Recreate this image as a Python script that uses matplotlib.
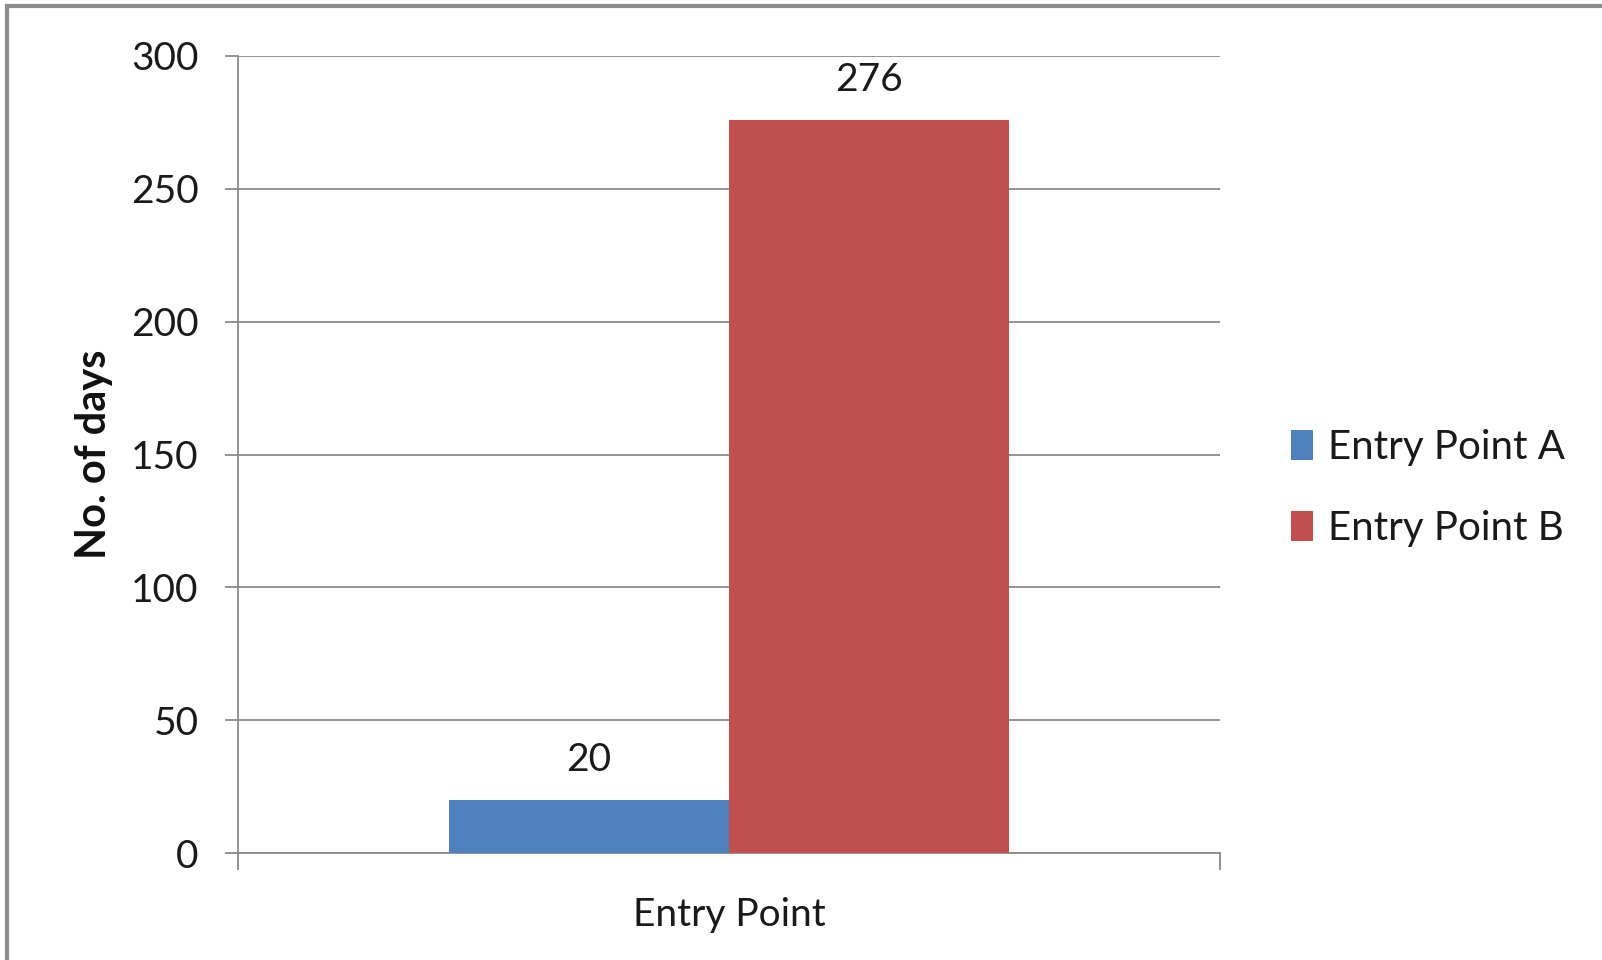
import matplotlib
matplotlib.use("Agg")
import matplotlib.pyplot as plt
import matplotlib.patches as mpatches

# data
categories = ["Entry Point"]
series_names = ["Entry Point A", "Entry Point B"]
values_a = [20]
values_b = [276]
colors = ["#4F81BD", "#C0504D"]

plt.rcParams['font.family'] = ['Lato', 'DejaVu Sans']

fig = plt.figure(figsize=(16.02, 9.6), dpi=100)
ax = fig.add_axes([238 / 1602, 1 - 853 / 960, (1220 - 238) / 1602, (853 - 56) / 960])

# outer frame (only left and top are visible in the source)
fig.patches.append(mpatches.Rectangle((7 / 1602, -0.1), 1.2, 1 - 6 / 960 + 0.1,
                                      transform=fig.transFigure, fill=False,
                                      ec="#8c8c8c", lw=3.0, zorder=0))

width = 0.285
x = range(len(categories))
bars_a = ax.bar([i - width / 2 for i in x], values_a, width, color=colors[0],
                label=series_names[0], zorder=3)
bars_b = ax.bar([i + width / 2 for i in x], values_b, width, color=colors[1],
                label=series_names[1], zorder=3)

for bars in (bars_a, bars_b):
    for b in bars:
        ax.annotate(f"{int(b.get_height())}", (b.get_x() + b.get_width() / 2, b.get_height()),
                    xytext=(0, 21), textcoords="offset points", ha="center", va="baseline",
                    fontsize=28, color="#1a1a1a")

ax.set_xlim(-0.5, len(categories) - 0.5)
ax.set_ylim(0, 300)
ax.set_yticks(range(0, 301, 50))
ax.yaxis.grid(True, color="#8a8a8a", lw=1.3, zorder=0)
ax.set_axisbelow(True)

for s in ("top", "right"):
    ax.spines[s].set_visible(False)
for s in ("left", "bottom"):
    ax.spines[s].set_color("#8a8a8a")
    ax.spines[s].set_linewidth(1.3)

ax.tick_params(axis="y", length=9.5, width=1.3, color="#8a8a8a", pad=19,
               labelsize=28, labelcolor="#1a1a1a")
ax.set_xticks(list(x))
ax.set_xticklabels(categories)
ax.set_xticks([-0.5, 0.5], minor=True)
ax.tick_params(axis="x", which="major", length=0, pad=32, labelsize=28, labelcolor="#1a1a1a")
ax.tick_params(axis="x", which="minor", length=12, width=1.3, color="#8a8a8a")

ax.set_ylabel("No. of days", fontsize=30, fontweight="bold", color="#111111")
ax.yaxis.set_label_coords(-0.127, 0.5)

ax.legend(loc="center left", bbox_to_anchor=(1255 / 1602, 1 - 488 / 960),
          bbox_transform=fig.transFigure, frameon=False, fontsize=29,
          handlelength=0.55, handleheight=0.75, handletextpad=0.35,
          labelspacing=1.1, labelcolor="#1a1a1a")

fig.savefig("out.png", dpi=100)
